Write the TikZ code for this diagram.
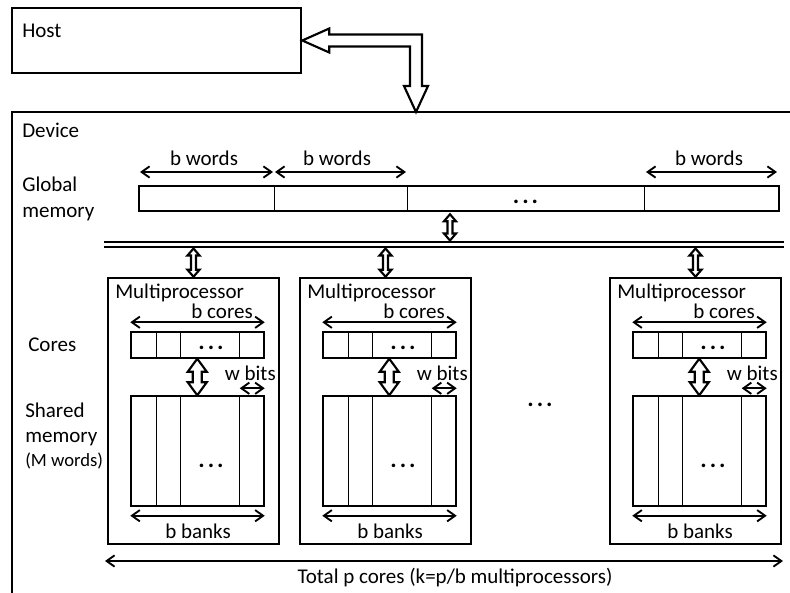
\documentclass[tikz,border=0pt]{standalone}
\usepackage{fontspec}
\setmainfont{Carlito}
\usetikzlibrary{arrows.meta,calc,fit,positioning}

\tikzset{
  box/.style={draw, line width=1.9pt, inner sep=0pt},
  cellbar/.style={draw, line width=1.1pt, inner sep=0pt},
  thinline/.style={line width=0.7pt},
  hollow/.style={draw, fill=white, line width=1.6pt, line join=miter},
  dimarrow/.style={line width=1.4pt, {Straight Barb[length=6pt,width=8.5pt]}-{Straight Barb[length=6pt,width=8.5pt]}},
  lbl/.style={inner sep=0pt, font=\fontsize{15.75}{19}\selectfont},
  smalllbl/.style={inner sep=0pt, font=\fontsize{14}{17}\selectfont},
  dots/.style={inner sep=0pt, anchor=base, font=\fontsize{18}{19}\selectfont\bfseries},
}

% hollow double arrow: #1 top tip, #2 bottom (x taken from #1), #3 half head, #4 half shaft, #5 head length
\newcommand{\dblarrow}[5]{%
  \draw[hollow] (#1) -- ++(#3,#5) -- ++({#4-#3},0) -- ($(#1|-#2)+(#4,-#5)$) -- ++({#3-#4},0)
    -- (#1|-#2) -- ++(-#3,-#5) -- ++({#3-#4},0) -- ($(#1)+(-#4,#5)$) -- ++({#4-#3},0) -- cycle;}
\newcommand{\ddd}{.\hspace{2.2pt}.\hspace{2.2pt}.}

\begin{document}
\begin{tikzpicture}[x=0.75pt,y=0.75pt,yscale=-1,xscale=1]
\useasboundingbox (0,0) rectangle (790,593);

%Host
\node[box, fit={(12,8) (301,73)}] (host) {};
\node[lbl, anchor=west] (hostlbl) at (22,31) {Host};

%Device frame (open to the right and bottom)
\draw[line width=1.9pt] (12,593) -- (12,112) -- (790,112);
\coordinate (dev) at (416,112);
\node[lbl, anchor=west] (devlbl) at (22,130) {Device};

%Host <-> device arrow
\draw[hollow] (host.east) -- ++(27,-12) -- ++(0,6) -- ($(dev|-host.east)+(6,-6)$) -- ($(dev)+(6,-26)$)
  -- ++(6,0) -- (dev) -- ++(-12,-26) -- ++(6,0) -- ($(dev|-host.east)+(-6,6)$) -- ($(host.east)+(27,6)$)
  -- ++(0,6) -- cycle;

%Global memory
\node[lbl, anchor=west, align=left] (gmlbl) at (22,199) {Global\\memory};
\node[box, fit={(139,186) (779,211)}] (gm) {};
\foreach \d in {274,407,644} {
  \draw[thinline] (\d,186) -- (\d,211);
}
\node[dots] (gmdots) at (525.5,203) {\ddd};
\draw[dimarrow] (140,172) -- (273,172);
\draw[dimarrow] (275,172) -- (406,172);
\draw[dimarrow] (646,172) -- (777,172);
\node[lbl] (bw1) at (204,158) {b words};
\node[lbl] (bw2) at (337,158) {b words};
\node[lbl] (bw3) at (709,158) {b words};

%Bus
\coordinate (busL) at (104,244.5);
\coordinate (busR) at (784,244.5);
\coordinate (busT) at (104,240.5);
\coordinate (busB) at (104,248.5);
\draw[double, line width=1.3pt, double distance=2.4pt] (busL) -- (busR);
\coordinate (gtap) at ($(gm.south west)!0.486!(gm.south east)+(0,2)$);
\coordinate (gbus) at (gtap |- busT);
\dblarrow{gtap}{gbus}{6}{2.5}{7}

%Left labels
\node[lbl, anchor=west] (corelbl) at (28,345) {Cores};
\node[lbl, anchor=west, align=left] (smlbl) at (25,424.5) {Shared\\memory};
\node[smalllbl, anchor=west] (mwlbl) at (25,461) {(M words)};

%Multiprocessors
\foreach \i/\xo in {1/108, 2/300, 3/610} {
  \node[box, fit={(\xo,278) ({\xo+171},544)}] (mp\i) {};
  \coordinate (tap\i) at (mp\i.north |- busB);
  \dblarrow{tap\i}{mp\i.north}{6}{2.5}{7}
  \node[lbl, anchor=west] (mpt\i) at ({\xo+7},293) {Multiprocessor};
  \node[lbl, anchor=east] (bc\i) at ({\xo+145},311) {b cores};
  \node[cellbar, fit={({\xo+23},332) ({\xo+156},358)}] (core\i) {};
  \node[cellbar, fit={({\xo+23},396) ({\xo+156},506)}] (smem\i) {};
  \foreach \d in {48,72,131} {
    \draw[thinline] ({\xo+\d},332) -- ({\xo+\d},358);
    \draw[thinline] ({\xo+\d},396) -- ({\xo+\d},506);
  }
  \node[dots] (cd\i) at ({\xo+103},349) {\ddd};
  \node[dots] (sd\i) at ({\xo+103},467) {\ddd};
  \draw[dimarrow] ($(core\i.north west)+(0,-9)$) -- ($(core\i.north east)+(0,-9)$);
  \coordinate (ca\i) at ($(core\i.south west)+(67,0)$);
  \coordinate (cb\i) at (ca\i |- smem\i.north);
  \dblarrow{ca\i}{cb\i}{9.5}{4.5}{13}
  \node[lbl, anchor=east] (wb\i) at ({\xo+168},373) {w bits};
  \draw[dimarrow] ($(smem\i.north east)+(-25,-7)$) -- ($(smem\i.north east)+(0,-7)$);
  \draw[dimarrow] ($(smem\i.south west)+(0,9)$) -- ($(smem\i.south east)+(0,9)$);
  \node[lbl] (bb\i) at ({\xo+90},531) {b banks};
}
\node[dots] (mpdots) at (540,406) {\ddd};

%Total
\draw[dimarrow] (105,561) -- (783,561);
\node[lbl] (totlbl) at (455,578) {Total p cores (k=p/b multiprocessors)};

\end{tikzpicture}
\end{document}
